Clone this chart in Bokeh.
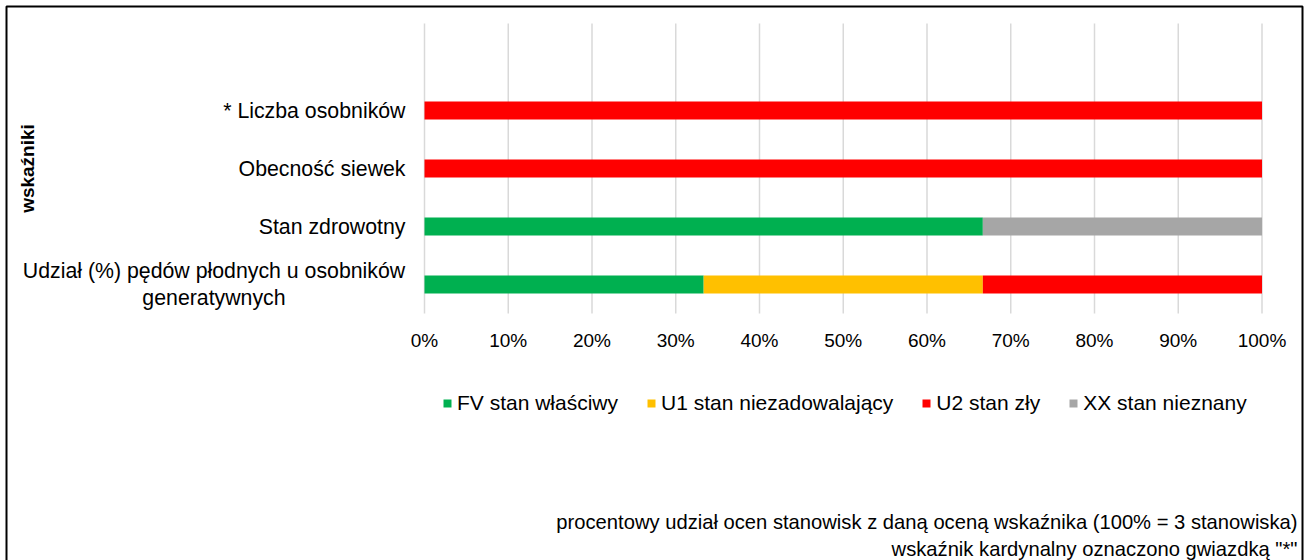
import math
from bokeh.plotting import figure
from bokeh.models import (ColumnDataSource, Range1d, Legend, LegendItem, Label, PolyAnnotation)
from bokeh.core.properties import value
from bokeh.embed import file_html
from bokeh.resources import INLINE

# ---- data ----
categories = ["Udział (%) pędów płodnych u osobników\ngeneratywnych",
              "Stan zdrowotny", "Obecność siewek", "* Liczba osobników"]
n_slots = 5          # one empty slot above the last category
n_sites = 3
fv_counts = [1, 2, 0, 0]
u1_counts = [1, 0, 0, 0]
u2_counts = [1, 0, 3, 3]
xx_counts = [0, 1, 0, 0]
series_labels = ["FV stan właściwy", "U1 stan niezadowalający", "U2 stan zły", "XX stan nieznany"]
series_colors = ["#00B050", "#FFC000", "#FF0000", "#A6A6A6"]
x_tick_values = [0, 10, 20, 30, 40, 50, 60, 70, 80, 90, 100]
x_tick_labels = ["0%", "10%", "20%", "30%", "40%", "50%", "60%", "70%", "80%", "90%", "100%"]
axis_title = "wskaźniki"
footnote_1 = "procentowy udział ocen stanowisk z daną oceną wskaźnika (100% = 3 stanowiska)"
footnote_2 = "wskaźnik kardynalny oznaczono gwiazdką \"*\""

# ---- layout constants (page pixels) ----
FONT = "Liberation Sans"
W, H = 1305, 560
PX_LEFT, PX_RIGHT = 424.0, 1261.5      # where 0% and 100% fall
PX_TOP, PX_BOTTOM = 23.0, 313.0        # top / bottom of the category band

ux = (PX_RIGHT - PX_LEFT)              # px per unit on x (0..1)
uy = (PX_BOTTOM - PX_TOP) / n_slots    # px per category slot
x_start = -PX_LEFT / ux
x_end = x_start + W / ux
y_start = -(H - PX_BOTTOM) / uy
y_end = y_start + H / uy

src = ColumnDataSource(dict(
    y=[i + 0.5 for i in range(len(categories))],
    cat=categories,
    fv=[c / n_sites for c in fv_counts],
    u1=[c / n_sites for c in u1_counts],
    u2=[c / n_sites for c in u2_counts],
    xx=[c / n_sites for c in xx_counts],
))

p = figure(width=W, height=H, output_backend="svg", toolbar_location=None,
           x_range=Range1d(x_start, x_end), y_range=Range1d(y_start, y_end),
           x_axis_location=None, y_axis_location=None, min_border=0)
p.grid.visible = False
p.outline_line_color = None
p.background_fill_color = "white"
p.border_fill_color = "white"

# vertical gridlines
gx = [v / 100 for v in x_tick_values]
p.segment(x0=gx, y0=[0] * len(gx), x1=gx, y1=[n_slots] * len(gx),
          line_color="#D9D9D9", line_width=1.5)

renderers = p.hbar_stack(["fv", "u1", "u2", "xx"], y="y", height=0.31,
                         color=series_colors, line_color=None, source=src)

# x tick labels
p.text(x=gx, y=[0] * len(gx), text=x_tick_labels, y_offset=27,
       text_align="center", text_baseline="middle",
       text_font=value(FONT), text_font_size="19px", text_color="#000000")

# category labels
single = [i for i, c in enumerate(categories) if "\n" not in c]
multi = [i for i, c in enumerate(categories) if "\n" in c]
p.text(x=[0] * len(single), y=[src.data["y"][i] for i in single],
       text=[categories[i] for i in single], x_offset=-19,
       text_align="right", text_baseline="middle",
       text_font=value(FONT), text_font_size="21.3px", text_color="#000000")
p.text(x=[0] * len(multi), y=[src.data["y"][i] for i in multi],
       text=[categories[i] for i in multi], x_offset=-(19 + 191.5),
       text_align="center", text_baseline="middle", text_line_height=1.13,
       text_font=value(FONT), text_font_size="21.3px", text_color="#000000")

legend = Legend(items=[LegendItem(label=l, renderers=[r]) for l, r in zip(series_labels, renderers)],
                orientation="horizontal", location=(442, H - 415),
                label_text_font=FONT, label_text_font_size="21px", label_text_color="#000000",
                glyph_width=10, glyph_height=10, label_standoff=5, spacing=28,
                padding=0, margin=0, border_line_alpha=0, background_fill_alpha=0)
p.add_layout(legend)

p.add_layout(PolyAnnotation(xs=[6, 6, 1302, 1302], ys=[-20, H - 6, H - 6, -20],
                            xs_units="screen", ys_units="screen",
                            fill_alpha=0, line_color="black", line_alpha=1, line_width=2))
p.add_layout(Label(x=27, y=H - 168, x_units="screen", y_units="screen", text=axis_title,
                   angle=math.pi / 2, text_align="center", text_baseline="middle",
                   text_font=FONT, text_font_size="19px", text_font_style="bold",
                   text_color="#000000"))
p.add_layout(Label(x=1297, y=H - 521, x_units="screen", y_units="screen", text=footnote_1,
                   text_align="right", text_baseline="middle",
                   text_font=FONT, text_font_size="20.2px", text_color="#000000"))
p.add_layout(Label(x=1297, y=H - 548, x_units="screen", y_units="screen", text=footnote_2,
                   text_align="right", text_baseline="middle",
                   text_font=FONT, text_font_size="20.2px", text_color="#000000"))

open("out.html", "w").write(file_html(p, INLINE))
